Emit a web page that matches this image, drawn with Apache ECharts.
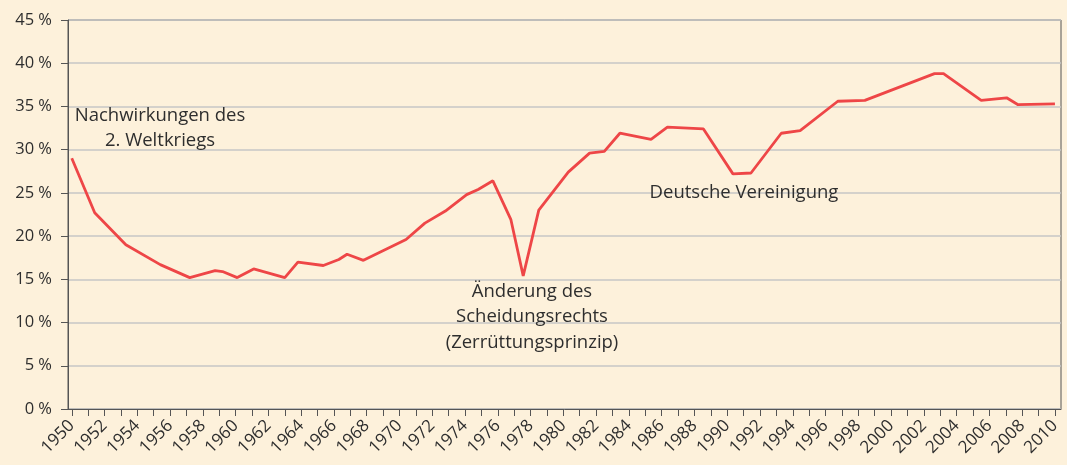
<!DOCTYPE html>
<html>
<head>
<meta charset="utf-8">
<script src="https://cdn.jsdelivr.net/npm/echarts@6/dist/echarts.min.js"></script>
<style>
  html, body { margin: 0; padding: 0; background: #fdf1db; }
  #chart { width: 1067px; height: 465px; }
</style>
</head>
<body>
<div id="chart"></div>
<script>
// Scheidungsrate (%); years where the line bends
const years = [1950.0, 1951.4, 1953.3, 1955.4, 1957.2, 1958.75, 1959.2, 1960.1, 1961.1, 1963.0,
  1963.8, 1965.35, 1966.3, 1966.8, 1967.8, 1970.4, 1971.55, 1972.8, 1974.1, 1974.8,
  1975.7, 1976.8, 1977.55, 1978.5, 1980.3, 1981.6, 1982.5, 1983.45, 1985.35, 1986.35,
  1988.55, 1990.35, 1991.45, 1993.3, 1994.45, 1996.75, 1998.4, 2002.65, 2003.2, 2005.5,
  2007.05, 2007.75, 2010.0];
const rates = [29.0, 22.7, 19.0, 16.7, 15.2, 16.0, 15.9, 15.2, 16.2, 15.2,
  17.0, 16.6, 17.3, 17.9, 17.2, 19.6, 21.5, 22.9, 24.8, 25.4,
  26.4, 21.9, 15.4, 23.0, 27.4, 29.6, 29.8, 31.9, 31.2, 32.6,
  32.4, 27.2, 27.3, 31.9, 32.2, 35.6, 35.7, 38.8, 38.8, 35.7,
  36.0, 35.2, 35.3];

const labelYears = [];
for (let y = 1950; y <= 2010; y += 2) labelYears.push(y);
const tickYears = [];
for (let y = 1950; y <= 2010; y += 1) tickYears.push(y);

const notes = [
  { text: "Nachwirkungen des\n2. Weltkriegs", x: 160, y: 128 },
  { text: "Änderung des\nScheidungsrechts\n(Zerrüttungsprinzip)", x: 532, y: 317 },
  { text: "Deutsche Vereinigung", x: 744, y: 193 },
];

const FONT = "'Open Sans', 'Noto Sans', sans-serif";
const TEXT = "#2e2e2e";
const AXIS = "#555555";

const chart = echarts.init(document.getElementById("chart"), null, { renderer: "canvas" });

chart.setOption({
  backgroundColor: "#fdf1db",
  animation: false,
  grid: {
    left: 68,
    right: 6,
    top: 20,
    bottom: 56,
    show: true,
    borderColor: AXIS,
    borderWidth: 1,
  },
  xAxis: {
    type: "value",
    min: 1949.77,
    max: 2010.37,
    splitLine: { show: false },
    axisLine: { show: true, onZero: false, lineStyle: { color: AXIS, width: 1 } },
    axisTick: {
      show: true,
      length: 7,
      customValues: tickYears,
      lineStyle: { color: AXIS, width: 1 },
    },
    axisLabel: {
      customValues: labelYears,
      rotate: 45,
      margin: 14,
      color: TEXT,
      fontFamily: FONT,
      fontSize: 17,
      formatter: (v) => String(v),
    },
  },
  yAxis: {
    type: "value",
    min: 0,
    max: 45,
    interval: 5,
    axisLine: { show: true, lineStyle: { color: AXIS, width: 1 } },
    axisTick: { show: true, length: 7, lineStyle: { color: AXIS, width: 1 } },
    axisLabel: {
      margin: 16,
      color: TEXT,
      fontFamily: FONT,
      fontSize: 16.5,
      formatter: "{value} %",
    },
    splitLine: { lineStyle: { color: "#c6c6c6", width: 1.5 } },
  },
  series: [
    {
      type: "line",
      data: years.map((y, i) => [y, rates[i]]),
      symbol: "none",
      smooth: false,
      lineStyle: { color: "#ee4647", width: 2.8 },
    },
  ],
  graphic: notes.map((n) => ({
    type: "text",
    x: n.x,
    y: n.y,
    z: 100,
    style: {
      text: n.text,
      fill: TEXT,
      font: `18.5px ${FONT}`,
      align: "center",
      verticalAlign: "middle",
      lineHeight: 25.5,
    },
  })),
});
</script>
</body>
</html>
